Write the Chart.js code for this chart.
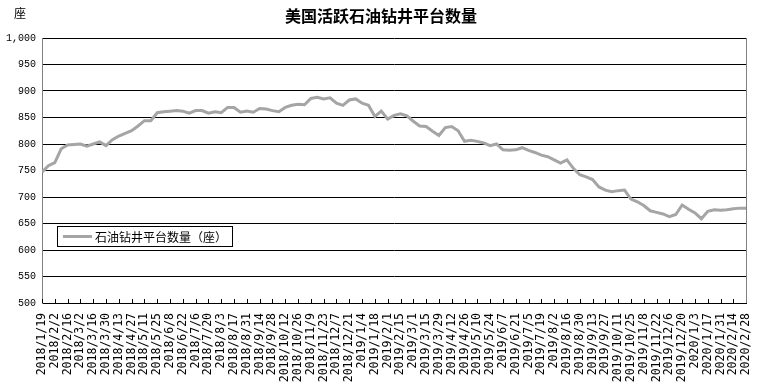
<!DOCTYPE html>
<html>
<head>
<meta charset="utf-8">
<script src="https://cdn.jsdelivr.net/npm/chart.js@4/dist/chart.umd.min.js"></script>
<style>
html,body{margin:0;padding:0;background:#fff;}
#wrap{width:762px;height:385px;position:relative;}
</style>
</head>
<body>
<div id="wrap"><canvas id="c" width="762" height="385"></canvas></div>
<script>
// Chart title and labels
const chartTitle = '美国活跃石油钻井平台数量';
const unitLabel = '座';
const seriesName = '石油钻井平台数量（座）';

// Tick labels shown on the x axis (every other week)
const tickLabels = [
 '2018/1/19','2018/2/2','2018/2/16','2018/3/2','2018/3/16','2018/3/30','2018/4/13','2018/4/27',
 '2018/5/11','2018/5/25','2018/6/8','2018/6/22','2018/7/6','2018/7/20','2018/8/3','2018/8/17',
 '2018/8/31','2018/9/14','2018/9/28','2018/10/12','2018/10/26','2018/11/9','2018/11/23','2018/12/7',
 '2018/12/21','2019/1/4','2019/1/18','2019/2/1','2019/2/15','2019/3/1','2019/3/15','2019/3/29',
 '2019/4/12','2019/4/26','2019/5/10','2019/5/24','2019/6/7','2019/6/21','2019/7/5','2019/7/19',
 '2019/8/2','2019/8/16','2019/8/30','2019/9/13','2019/9/27','2019/10/11','2019/10/25','2019/11/8',
 '2019/11/22','2019/12/6','2019/12/20','2020/1/3','2020/1/17','2020/1/31','2020/2/14','2020/2/28'
];

// Weekly values, 2018/1/19 .. 2020/2/28
const rigs2018 = [747,759,765,791,798,799,800,796,800,804,
                  797,808,815,820,825,834,844,844,859,861,
                  862,863,862,858,863,863,858,861,859,869,
                  869,860,862,860,867,866,863,861,869,873,
                  875,874,886,888,885,887,877,873,883,885];
const rigs2019 = [877,873,852,862,847,854,857,853,843,834,
                  833,824,816,831,833,825,805,807,805,802,
                  797,800,789,788,789,793,788,784,779,776,
                  770,764,770,754,742,738,733,719,713,710,
                  712,713,696,691,684,674,671,668,663,667,
                  685,677];
const rigs2020 = [670,659,673,676,675,676,678,679,679];

const yTicks = {min:500, max:1000, step:50};

const values = rigs2018.concat(rigs2019, rigs2020);
const points = values.map((v,i)=>({x:i, y:v}));

const decor = {
  id:'decor',
  afterDraw(chart){
    const ctx = chart.ctx;
    const a = chart.chartArea;
    const xs = chart.scales.x;
    ctx.save();
    // inside tick marks on x axis
    ctx.strokeStyle = '#000';
    ctx.lineWidth = 1;
    ctx.beginPath();
    for (let i=0;i<tickLabels.length;i++){
      const px = Math.round(xs.getPixelForValue(i*2))+0.5;
      ctx.moveTo(px, a.bottom);
      ctx.lineTo(px, a.bottom-4);
    }
    ctx.stroke();
    // right border
    ctx.strokeStyle = '#808080';
    ctx.beginPath();
    ctx.moveTo(Math.round(a.right)+0.5, a.top);
    ctx.lineTo(Math.round(a.right)+0.5, a.bottom);
    ctx.stroke();
    // title
    ctx.fillStyle = '#000';
    ctx.font = 'bold 16px "Noto Sans CJK SC"';
    ctx.textAlign = 'center';
    ctx.textBaseline = 'middle';
    ctx.fillText(chartTitle, 381, 16);
    ctx.font = '12px "Noto Sans CJK SC"';
    ctx.fillText(unitLabel, 20, 13);
    // legend
    const lx=57.5, ly=226.5, lw=175, lh=20;
    ctx.fillStyle='#fff';
    ctx.fillRect(lx,ly,lw,lh);
    ctx.strokeStyle='#000';
    ctx.lineWidth=1;
    ctx.strokeRect(lx,ly,lw,lh);
    ctx.strokeStyle='#a5a5a5';
    ctx.lineWidth=3;
    ctx.beginPath();
    ctx.moveTo(63, ly+lh/2);
    ctx.lineTo(92, ly+lh/2);
    ctx.stroke();
    ctx.fillStyle='#000';
    ctx.font='12px "Noto Sans CJK SC"';
    ctx.textAlign='left';
    ctx.fillText(chart.data.datasets[0].label, 95, ly+lh/2+0.5);
    ctx.restore();
  }
};

new Chart(document.getElementById('c'), {
  type:'line',
  data:{
    datasets:[{
      label: seriesName,
      data: points,
      borderColor:'#a5a5a5',
      borderWidth:3,
      pointRadius:0,
      tension:0,
      fill:false
    }]
  },
  options:{
    responsive:false,
    animation:false,
    layout:{padding:{top:38,right:12,left:0,bottom:0}},
    plugins:{legend:{display:false}, title:{display:false}, tooltip:{enabled:false}},
    scales:{
      x:{
        type:'linear',
        min:0,
        max:values.length-1,
        grid:{display:false},
        border:{display:true,color:'#000',width:1},
        afterFit(s){ s.height = 82; },
        afterBuildTicks(s){
          s.ticks = tickLabels.map((t,i)=>({value:i*2}));
        },
        ticks:{
          autoSkip:false,
          minRotation:90,
          maxRotation:90,
          padding:2,
          color:'#000',
          font:{family:'"DejaVu Sans Mono"', size:11.5},
          callback:(v)=>tickLabels[v/2]
        }
      },
      y:{
        min:yTicks.min,
        max:yTicks.max,
        afterFit(s){ s.width = 42; },
        grid:{color:'#000', lineWidth:1, drawTicks:false},
        border:{display:true,color:'#808080',width:1},
        ticks:{
          stepSize:yTicks.step,
          padding:6,
          color:'#000',
          font:{family:'"Liberation Mono"', size:10},
          callback:(v)=>v.toLocaleString('en-US')
        }
      }
    }
  },
  plugins:[decor]
});
</script>
</body>
</html>
